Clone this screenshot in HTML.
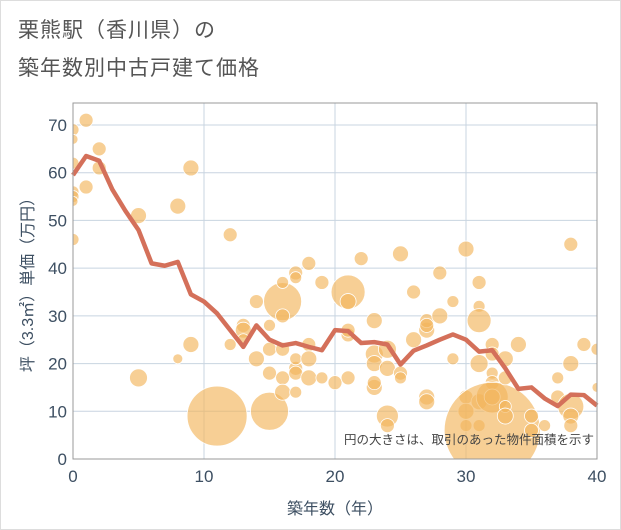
<!DOCTYPE html>
<html><head><meta charset="utf-8"><style>
body{margin:0;background:#fff;}
#wrap{position:relative;width:621px;height:530px;font-family:"Liberation Sans","Noto Sans CJK JP",sans-serif;}
.t{position:absolute;left:18px;font-size:21px;color:#555;letter-spacing:1px;}
</style></head><body>
<div id="wrap">
<div class="t" style="top:14px">栗熊駅（香川県）の</div>
<div class="t" style="top:52px">築年数別中古戸建て価格</div>
<svg id="svg" width="621" height="530" style="position:absolute;left:0;top:0"></svg>
</div>
<script>
const lineYears=[0,1,2,3,4,5,6,7,8,9,10,11,12,13,14,15,16,17,18,19,20,21,22,23,24,25,26,27,28,29,30,31,32,33,34,35,36,37,38,39,40];
const lineValues=[59.5,63.5,62.5,56.5,52,48,41,40.5,41.3,34.5,33,30.5,27,23.5,28,25,23.8,24.3,23.5,22.8,27,26.8,24.3,24.5,24,19.8,22.7,23.8,25,26.1,25,22.5,22.8,19,14.7,15,12.7,11.1,13.5,13.4,11.2];
const bubX=[0,0,0,0,0,0,0,1,1,2,2,5,5,8,8,9,9,11,12,12,13,13,13,14,14,15,15,15,15,16,16,16,16,16,16,17,17,17,17,17,17,18,18,18,18,19,19,20,21,21,21,21,21,22,23,23,23,23,23,24,24,24,24,25,25,25,26,26,27,27,27,27,27,28,28,29,29,30,30,30,30,31,31,31,31,31,31,32,32,32,32,32,32,32,33,33,33,33,34,35,35,36,37,37,38,38,38,38,38,39,40,40];
const bubY=[69,67,62,56,55,54,46,71,57,65,61,51,17,53,21,61,24,9,47,24,28,27,25,33,21,10,23,18,28,33,37,30,23,17,14,39,38,19,18,14,21,41,24,21,17,37,17,16,35,33,26,27,17,42,29,22,20,15,16,23,19,9,7,43,18,17,35,25,27,29,28,13,12,39,30,33,21,44,13,10,7,37,32,29,12,7,20,24,22,18,16,13,13,6,21,17,11,9,24,9,6,7,13,17,45,20,11,9,7,24,23,15];
const bubR=[6,5,6,6,6,5,6,7,7,7,7,8,9,8,5,8,8,30,7,6,7,8,6,7,8,19,7,7,6,19,6,7,7,7,8,7,6,7,7,6,6,7,7,8,8,7,6,7,17,8,7,7,7,7,8,9,8,8,7,9,8,11,7,8,7,6,7,8,8,7,7,8,8,7,8,6,6,8,7,8,6,7,6,12,8,6,9,7,7,6,7,16,8,48,8,7,6,8,8,7,7,6,7,6,7,8,13,8,7,7,6,5];
const yTicks=[0,10,20,30,40,50,60,70];
const xTicks=[0,10,20,30,40];
const L=73,R=597,T=103,B=459;
const sx=v=>L+(v/40)*(R-L);
const sy=v=>B-(v/70)*(B-125);
const svg=document.getElementById('svg');
const NS='http://www.w3.org/2000/svg';
function mk(tag,attrs,parent){const e=document.createElementNS(NS,tag);for(const k in attrs)e.setAttribute(k,attrs[k]);(parent||svg).appendChild(e);return e;}
const defs=mk('clipPath',{id:'clip'});mk('rect',{x:L,y:T,width:R-L,height:B-T},defs);
mk('rect',{x:0.5,y:0.5,width:620,height:529,fill:'none',stroke:'#ddd'});
yTicks.forEach(v=>{const l=mk('line',{x1:L,x2:R,y1:sy(v),y2:sy(v),stroke:'#c8d4e0','stroke-width':1});

const t=mk('text',{x:L-6,y:sy(v)+6,'text-anchor':'end','font-size':17,fill:'#3d4f62'});t.textContent=v;
});
xTicks.forEach(v=>{const l=mk('line',{x1:sx(v),x2:sx(v),y1:T,y2:B,stroke:'#c8d4e0','stroke-width':1});

const t=mk('text',{x:sx(v),y:B+23,'text-anchor':'middle','font-size':17,fill:'#3d4f62'});t.textContent=v;
});
const g=mk('g',{'clip-path':'url(#clip)'});

bubX.forEach((x,i)=>{const c=mk('circle',{cx:sx(x),cy:sy(bubY[i]),r:bubR[i],fill:'#f2b55c','fill-opacity':0.65,stroke:'#fff','stroke-width':0.8},g);
});
const p=mk('polyline',{points:lineYears.map((x,i)=>sx(x)+','+sy(lineValues[i])).join(' '),fill:'none',stroke:'#d4705a','stroke-width':4.5,'stroke-linejoin':'round'});

const f=mk('rect',{x:L,y:T,width:R-L,height:B-T,fill:'none',stroke:'#999','stroke-width':1});

const n=mk('text',{x:594,y:444,'text-anchor':'end','font-size':12.5,fill:'#444'});n.textContent='円の大きさは、取引のあった物件面積を示す';

const xt=mk('text',{x:(L+R)/2,y:514,'text-anchor':'middle','font-size':16,fill:'#3d4f62'});xt.textContent='築年数（年）';

const yt=mk('text',{x:0,y:0,'text-anchor':'middle','font-size':16,fill:'#3d4f62',transform:'translate(33,'+((T+B)/2)+') rotate(-90)'});yt.textContent='坪（3.3㎡）単価（万円）';

</script>
</body></html>
